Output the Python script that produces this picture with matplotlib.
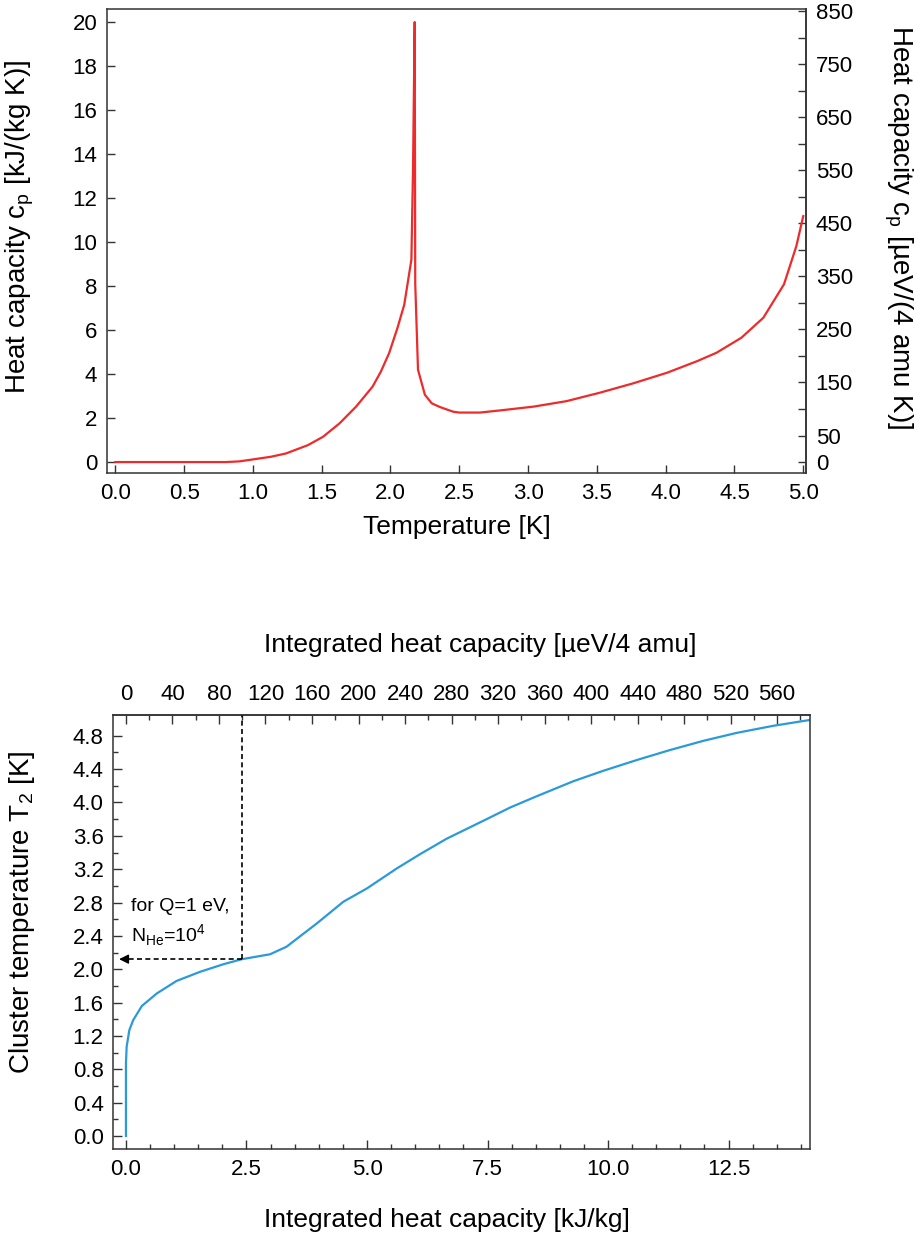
import matplotlib
matplotlib.use("Agg")
import matplotlib.pyplot as plt
import numpy as np

plt.rcParams['font.family'] = ['Liberation Sans', 'DejaVu Sans']
plt.rcParams['mathtext.fontset'] = 'custom'
plt.rcParams['mathtext.rm'] = 'Liberation Sans'

# heat capacity of liquid He-4 (upper panel)
temp_K = [0.0, 0.5, 0.8, 0.9, 1.0, 1.13, 1.24, 1.40, 1.51, 1.63, 1.75, 1.87, 1.93, 1.99,
          2.05, 2.10, 2.152, 2.164, 2.176, 2.18, 2.20, 2.25, 2.30, 2.36, 2.455, 2.50,
          2.65, 2.80, 3.04, 3.28, 3.52, 3.765, 4.01, 4.23, 4.37, 4.55, 4.71, 4.86,
          4.95, 5.0]
cp_kJ = [0.0, 0.0, 0.0, 0.03, 0.12, 0.24, 0.39, 0.77, 1.15, 1.76, 2.52, 3.43, 4.11, 4.95,
         6.08, 7.15, 9.2, 13.4, 20.0, 8.1, 4.2, 3.06, 2.67, 2.5, 2.29, 2.25,
         2.25, 2.35, 2.52, 2.77, 3.15, 3.58, 4.06, 4.59, 4.97, 5.65, 6.56, 8.08,
         9.82, 11.18]

# cluster temperature vs integrated heat capacity (lower panel)
q_int = [0.0, 0.0, 0.014, 0.07, 0.15, 0.33, 0.64, 1.05, 1.54, 2.02, 2.40, 2.99, 3.33,
         3.96, 4.51, 5.0, 5.62, 6.10, 6.65, 7.48, 7.97, 8.52, 9.28, 9.90, 10.60,
         11.29, 11.98, 12.67, 13.43, 14.19]
t_cluster = [0.0, 0.87, 1.07, 1.27, 1.39, 1.56, 1.71, 1.86, 1.97, 2.06, 2.12, 2.18, 2.27,
             2.55, 2.81, 2.97, 3.21, 3.38, 3.565, 3.80, 3.94, 4.075, 4.255, 4.38, 4.51,
             4.63, 4.74, 4.835, 4.92, 4.99]

# 1 kJ/kg  ->  ueV per 4 amu
conv = 41.46
Q_eV = 1.0
N_He = 1e4
arrow_end = -0.2

fig = plt.figure(figsize=(9.18, 12.38), dpi=100)
spine_c = '#333333'
tick_kw = dict(direction='in', labelsize=16, pad=7, color=spine_c, width=1.0)


def style_spines(ax):
    for s in ax.spines.values():
        s.set_color(spine_c)
        s.set_linewidth(1.1)


# ---------- upper panel ----------
ax1 = fig.add_axes([0.1166, 0.6177, 0.7614, 0.3748])
ax1.plot(temp_K, cp_kJ, color='#ee2a2a', lw=1.6)
ax1.set_xlim(-0.06, 5.02)
ax1.set_ylim(-0.51, 20.58)
ax1.set_xticks(np.arange(0, 5.01, 0.5))
ax1.set_yticks(np.arange(0, 21, 2))
ax1.tick_params(axis='both', length=6, **tick_kw)
ax1.xaxis.set_major_formatter(plt.FormatStrFormatter('%.1f'))
ax1.set_xlabel('Temperature [K]', fontsize=19, labelpad=8)
ax1.set_ylabel('Heat capacity c$_\\mathregular{p}$ [kJ/(kg K)]', fontsize=20)
ax1.yaxis.set_label_coords(-0.102, 0.53)
style_spines(ax1)

ax1r = ax1.secondary_yaxis('right', functions=(lambda v: v * conv, lambda v: v / conv))
ax1r.set_yticks(np.arange(0, 851, 50))
ax1r.set_yticklabels([str(v) if (v == 0 or v % 100 == 50) else '' for v in range(0, 851, 50)])
ax1r.tick_params(axis='y', length=6, **tick_kw)
style_spines(ax1r)
fig.text(898 / 918, 1 - 227 / 1238, 'Heat capacity c$_\\mathregular{p}$ [µeV/(4 amu K)]',
         fontsize=20, rotation=270, ha='center', va='center')

# ---------- lower panel ----------
ax2 = fig.add_axes([0.1234, 0.0716, 0.759, 0.3509])
ax2.plot(q_int, t_cluster, color='#2b9ad8', lw=1.6)
ax2.set_xlim(-0.263, 14.19)
ax2.set_ylim(-0.16, 5.05)
ax2.set_xticks(np.arange(0, 13, 2.5))
ax2.set_xticks(np.arange(0, 14.2, 0.5), minor=True)
ax2.set_yticks(np.arange(0, 4.81, 0.4))
ax2.set_yticks(np.arange(0, 5.0, 0.2), minor=True)
ax2.xaxis.set_major_formatter(plt.FormatStrFormatter('%.1f'))
ax2.yaxis.set_major_formatter(plt.FormatStrFormatter('%.1f'))
ax2.tick_params(axis='both', which='major', length=6.5, **tick_kw)
ax2.tick_params(axis='both', which='minor', direction='in', length=3.8, color=spine_c, width=1.0)
ax2.set_xlabel('Integrated heat capacity [kJ/kg]', fontsize=19, labelpad=21)
ax2.xaxis.set_label_coords(0.479, -0.135)
ax2.set_ylabel('Cluster temperature T$_\\mathregular{2}$ [K]', fontsize=20)
ax2.yaxis.set_label_coords(-0.110, 0.546)
style_spines(ax2)

ax2t = ax2.secondary_xaxis('top', functions=(lambda v: v * conv, lambda v: v / conv))
ax2t.set_xticks(np.arange(0, 561, 40))
ax2t.set_xticks(np.arange(0, 590, 20), minor=True)
ax2t.tick_params(axis='x', which='major', length=6.5, **tick_kw)
ax2t.tick_params(axis='x', which='minor', direction='in', length=3.8, color=spine_c, width=1.0)
style_spines(ax2t)
fig.text(480 / 918, 1 - 645 / 1238, 'Integrated heat capacity [µeV/4 amu]',
         fontsize=19, ha='center', va='center')

# energy per atom for Q=1 eV shared by 1e4 He atoms
q_mark = Q_eV / N_He * 1e6 / conv
t_mark = np.interp(q_mark, q_int, t_cluster)
ax2.plot([q_mark, q_mark], [t_mark, 5.05], ls=(0, (3, 2)), color='k', lw=1.2)
ax2.plot([q_mark, arrow_end + 0.12], [t_mark, t_mark], ls=(0, (3, 2)), color='k', lw=1.2)
ax2.annotate('', xy=(arrow_end, t_mark), xytext=(arrow_end + 0.25, t_mark),
             arrowprops=dict(arrowstyle='-|>', color='k', lw=1.0, mutation_scale=14))
ax2.text(0.11, 2.75, 'for Q=1 eV,', fontsize=14, ha='left', va='center')
ax2.text(0.11, 2.41, 'N$_\\mathregular{He}$=10$^\\mathregular{4}$', fontsize=14,
         ha='left', va='center')

fig.savefig('out.png', dpi=100)
